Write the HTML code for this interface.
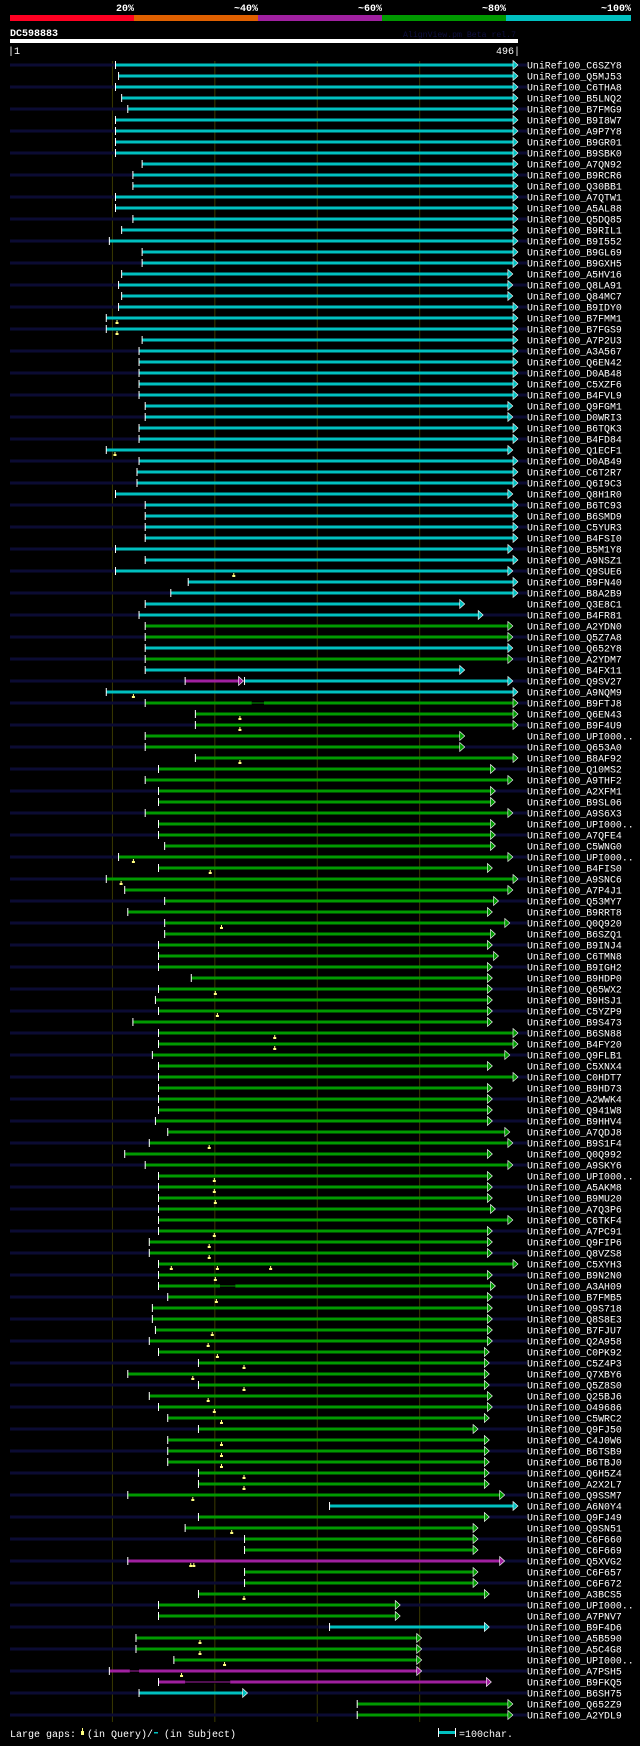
<!DOCTYPE html>
<html><head><meta charset="utf-8">
<style>
html,body{margin:0;padding:0;background:#000;}
body{width:640px;height:1741px;overflow:hidden;}
svg text{font-family:"Liberation Mono","DejaVu Sans Mono",monospace;}
</style></head>
<body>
<svg id="chart" width="640" height="1741" viewBox="0 0 640 1741" xmlns="http://www.w3.org/2000/svg">
<rect x="0" y="0" width="640" height="1741" fill="#000"/>
<g>
<rect x="10" y="15" width="124" height="6" fill="#ff0022"/>
<rect x="134" y="15" width="124" height="6" fill="#e06000"/>
<rect x="258" y="15" width="124" height="6" fill="#a020a0"/>
<rect x="382" y="15" width="124" height="6" fill="#009900"/>
<rect x="506" y="15" width="125" height="6" fill="#00c0c0"/>
<g fill="#fff" font-size="10" font-weight="bold" text-anchor="end">
<text x="134" y="11">20%</text>
<text x="258" y="11">~40%</text>
<text x="382" y="11">~60%</text>
<text x="506" y="11">~80%</text>
<text x="631" y="11">~100%</text>
</g></g>
<text x="10" y="36" fill="#fff" font-size="10" font-weight="bold">DC598883</text>
<text x="403" y="37" fill="#101040" font-size="8.2">AlignView.pm Beta rel.7</text>
<rect x="10" y="39" width="508" height="4" fill="#fff"/>
<text x="8" y="54" fill="#fff" font-size="10">|1</text>
<text x="520" y="54" fill="#fff" font-size="10" text-anchor="end">496|</text>
<g id="grid"></g>
<g id="rows"></g>
<g>
<text x="10" y="1737" fill="#fff" font-size="10">Large gaps:</text>
<rect x="82" y="1728" width="1" height="4" fill="#ffff80"/>
<rect x="81" y="1731" width="3" height="4" fill="#ffff80"/>
<text x="87" y="1737" fill="#fff" font-size="10">(in Query)/</text>
<rect x="154" y="1732" width="4" height="1.5" fill="#00c0c0"/>
<text x="164" y="1737" fill="#fff" font-size="10">(in Subject)</text>
<rect x="438" y="1728" width="1" height="9" fill="#fff"/>
<rect x="439" y="1731" width="16" height="3" fill="#00c0c0"/>
<rect x="455" y="1728" width="1" height="9" fill="#fff"/>
<text x="459" y="1737" fill="#fff" font-size="10">=100char.</text>
</g>
</svg>
<script>
const hitIds = ["C6SZY8","Q5MJ53","C6THA8","B5LNQ2","B7FMG9","B9I8W7","A9P7Y8","B9GR01","B9SBK0","A7QN92","B9RCR6","Q30BB1","A7QTW1","A5AL88","Q5DQ85","B9RIL1","B9I552","B9GL69","B9GXH5","A5HV16","Q8LA91","Q84MC7","B9IDY0","B7FMM1","B7FGS9","A7P2U3","A3A567","Q6EN42","D0AB48","C5XZF6","B4FVL9","Q9FGM1","D0WRI3","B6TQK3","B4FD84","Q1ECF1","D0AB49","C6T2R7","Q6I9C3","Q8H1R0","B6TC93","B6SMD9","C5YUR3","B4FSI0","B5M1Y8","A9NSZ1","Q9SUE6","B9FN40","B8A2B9","Q3E8C1","B4FR81","A2YDN0","Q5Z7A8","Q652Y8","A2YDM7","B4FX11","Q9SV27","A9NQM9","B9FTJ8","Q6EN43","B9F4U9","UPI000..","Q653A0","B8AF92","Q10MS2","A9THF2","A2XFM1","B9SL06","A9S6X3","UPI000..","A7QFE4","C5WNG0","UPI000..","B4FIS0","A9SNC6","A7P4J1","Q53MY7","B9RRT8","Q0Q920","B6SZQ1","B9INJ4","C6TMN8","B9IGH2","B9HDP0","Q65WX2","B9HSJ1","C5YZP9","B9S473","B6SN88","B4FY20","Q9FLB1","C5XNX4","C0HDT7","B9HD73","A2WWK4","Q941W8","B9HHV4","A7QDJ8","B9S1F4","Q0Q992","A9SKY6","UPI000..","A5AKM8","B9MU20","A7Q3P6","C6TKF4","A7PC91","Q9FIP6","Q8VZS8","C5XYH3","B9N2N0","A3AH09","B7FMB5","Q9S718","Q8S8E3","B7FJU7","Q2A958","C0PK92","C5Z4P3","Q7XBY6","Q5Z8S0","Q25BJ6","O49686","C5WRC2","Q9FJ50","C4J0W6","B6TSB9","B6TBJ0","Q6H5Z4","A2X2L7","Q9SSM7","A6N0Y4","Q9FJ49","Q9SN51","C6F660","C6F669","Q5XVG2","C6F657","C6F672","A3BCS5","UPI000..","A7PNV7","B9F4D6","A5B590","A5C4G8","UPI000..","A7PSH5","B9FKQ5","B6SH75","Q652Z9","A2YDL9"];
const hitStarts = [103,106,103,109,115,103,103,103,103,129,120,120,103,103,120,109,97,129,129,109,106,109,
106,94,94,129,126,126,126,126,126,132,132,126,126,94,126,124,124,103,132,132,132,132,
103,132,103,174,157,132,126,132,132,132,132,132,229,94,132,181,181,132,132,181,145,132,
145,145,132,145,145,151,106,145,94,112,151,115,151,151,145,145,145,177,145,142,145,120,
145,145,139,145,145,145,145,145,142,154,136,112,132,145,145,145,145,145,145,136,136,145,
145,145,154,139,139,142,136,145,184,115,184,136,145,154,184,154,154,154,184,184,115,312,
184,171,229,229,115,229,229,184,145,145,312,
123,123,160,97,145,126,339,339];
const hitEnds = [496,496,496,496,496,496,496,496,496,496,496,496,496,496,496,496,496,496,496,491,491,491,
496,496,496,496,496,496,496,496,496,491,491,496,496,491,496,496,496,491,496,496,496,496,
491,496,491,496,496,444,462,491,491,491,491,444,491,496,496,496,496,444,444,496,474,491,
474,474,491,474,474,474,491,471,496,491,477,471,488,474,471,477,471,471,471,471,471,471,
496,496,488,471,496,471,471,471,471,488,491,471,491,471,471,471,474,491,471,471,471,496,
471,474,471,471,471,471,471,468,468,468,468,471,471,468,457,468,468,468,468,468,483,496,
468,457,457,457,483,457,457,468,381,381,468,
402,402,402,402,470,232,491,491];
const hitColors = "cccccccccccccccccccccccccccccccccccccccccccccccccccggcgccc" +
  "g".repeat(73) + "cggggm" + "gggggc" + "gggmmcgg";
const queryGapRows = [23,24,35,46,57,59,60,63,72,73,74,78,84,86,88,89,98,101,102,103,106,107,108,109,109,109,110,112,115,116,117,118,119,120,121,122,123,125,126,127,128,129,130,133,136,136,139,143,144,145,146];
const queryGapPos  = [104,104,102,218,120,224,224,224,120,195,108,206,200,202,258,258,194,199,199,200,199,194,194,157,202,254,200,201,197,193,202,228,178,228,193,199,206,206,206,206,228,228,178,216,176,179,228,185,185,209,167];
const subjGapRows = [58,111,146,147];
const subjGapFrom = [236,205,117,171];
const subjGapTo   = [248,220,126,215];
const extraSegRows = [56];
const extraSegFrom = [171];
const extraSegTo   = [228];
const extraSegColor = ["m"];
const gridTicks = [100,200,300,400];

const NS = "http://www.w3.org/2000/svg";
const COL = {c:"#00c0c0", g:"#009900", m:"#a020a0"};
function xPos(p){ return 10 + p * 508 / 496; }
function yRow(i){ return 65 + i * 11; }
function mk(tag, attrs, parent){
  const e = document.createElementNS(NS, tag);
  for (const k in attrs) e.setAttribute(k, attrs[k]);
  parent.appendChild(e);
  return e;
}
const grid = document.getElementById("grid");
gridTicks.forEach(t => {
  const l = mk("rect", {x: xPos(t) - 0.5, y: 61, width: 1, height: 1661, fill: "#3a3a00"}, grid);
  
  
});
const rows = document.getElementById("rows");
function drawHit(i, s, e, col, arrow, g){
  const y = yRow(i);
  const xs = xPos(s), xe = xPos(e);
  const bar = mk("rect", {x: xs, y: y - 1.5, width: Math.max(0, xe - 5 - xs), height: 3, fill: col}, g);
  
  
  const tick = mk("rect", {x: xs - 0.5, y: y - 4, width: 1, height: 8, fill: "#fff"}, g);
  
  
  const tri = mk("polygon", {points: (xe-5)+","+(y-4.5)+" "+xe+","+y+" "+(xe-5)+","+(y+4.5), fill: col, stroke: "#fff", "stroke-width": 0.6}, g);
  
  
}
for (let i = 0; i < hitIds.length; i++) {
  const g = mk("g", {}, rows);
  
  
  const y = yRow(i);
  if (i % 2 === 0) {
    const bg = mk("rect", {x: 10, y: y - 1.5, width: 517, height: 3, fill: "#0b0b33"}, g);
    
    
  }
  drawHit(i, hitStarts[i], hitEnds[i], COL[hitColors[i]], true, g);
  const t = mk("text", {x: 527, y: y + 3.5, fill: "#fff", "font-size": 9.9}, g);
  t.textContent = "UniRef100_" + hitIds[i];
  
  
}
extraSegRows.forEach((r, k) => {
  const g = mk("g", {}, rows);
  
  
  drawHit(r, extraSegFrom[k], extraSegTo[k], COL[extraSegColor[k]], true, g);
});
subjGapRows.forEach((r, k) => {
  const y = yRow(r);
  const x1 = xPos(subjGapFrom[k]), x2 = xPos(subjGapTo[k]);
  const cut = mk("rect", {x: x1, y: y - 1.5, width: x2 - x1, height: 3, fill: "#000"}, rows);
  
  
  const ln = mk("rect", {x: x1, y: y - 0.5, width: x2 - x1, height: 1, fill: COL[hitColors[r]]}, rows);
  
  
});
queryGapRows.forEach((r, k) => {
  const y = yRow(r);
  const x = xPos(queryGapPos[k]);
  const st = mk("rect", {x: x, y: y + 2, width: 1, height: 2, fill: "#ffff80"}, rows);
  
  
  const m = mk("rect", {x: x - 1, y: y + 4, width: 3, height: 2, fill: "#ffff80"}, rows);
  
  
});
</script>
</body></html>
